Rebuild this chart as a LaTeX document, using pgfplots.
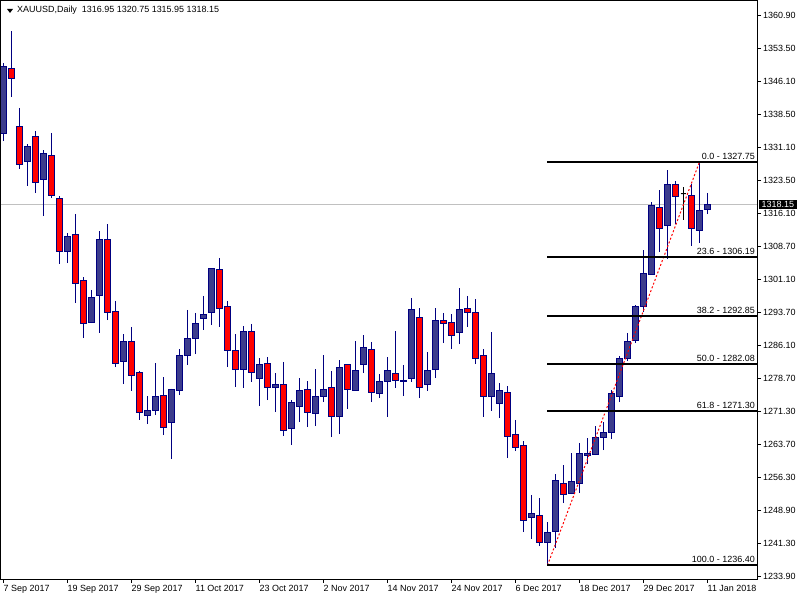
\documentclass[border=0pt]{standalone}
\usepackage{fontspec}
\setmainfont{Liberation Sans}
\usepackage{pgfplots}
\usepackage{pgfplotstable}
\pgfplotsset{compat=1.18}
\usepgfplotslibrary{statistics}

\definecolor{wick}{RGB}{0,0,128}
\definecolor{bull}{RGB}{60,60,140}
\definecolor{bear}{RGB}{255,0,0}
\definecolor{bidline}{RGB}{192,192,192}

% daily XAUUSD candles: index, open, high, low, close
\pgfplotstableread{
i o h l c
0 1334.10 1350.18 1332.51 1349.50
1 1348.83 1357.43 1342.48 1346.56
2 1335.91 1339.99 1326.17 1327.30
3 1327.98 1331.83 1322.32 1331.38
4 1333.42 1334.78 1320.73 1323.00
5 1323.68 1330.47 1315.52 1329.57
6 1329.12 1334.33 1319.60 1320.28
7 1319.60 1320.05 1304.65 1307.37
8 1307.59 1311.67 1304.87 1310.99
9 1311.22 1315.98 1295.81 1300.12
10 1301.02 1301.70 1287.88 1291.28
11 1291.51 1298.76 1291.28 1296.95
12 1297.62 1312.12 1289.02 1310.31
13 1310.31 1313.71 1291.96 1293.77
14 1294.00 1296.27 1281.31 1282.22
15 1282.67 1288.79 1277.46 1286.98
16 1286.98 1290.38 1275.88 1279.50
17 1280.18 1280.41 1269.31 1271.12
18 1270.44 1274.74 1268.40 1271.57
19 1271.57 1282.22 1270.44 1274.74
20 1274.97 1279.05 1265.91 1267.72
21 1268.63 1276.40 1260.47 1276.33
22 1276.10 1285.39 1274.97 1284.03
23 1284.03 1294.23 1281.77 1287.88
24 1287.88 1293.55 1284.26 1291.28
25 1292.19 1297.40 1289.70 1293.32
26 1293.55 1303.74 1290.83 1303.52
27 1303.29 1306.01 1290.38 1294.68
28 1295.13 1296.27 1281.31 1285.16
29 1285.16 1288.79 1276.78 1280.86
30 1280.86 1290.60 1276.56 1289.47
31 1289.47 1291.06 1277.92 1280.18
32 1278.60 1283.35 1272.48 1281.99
33 1282.22 1283.58 1273.84 1276.56
34 1276.56 1279.95 1271.12 1277.46
35 1277.46 1282.45 1265.68 1267.04
36 1267.49 1273.84 1263.64 1273.38
37 1272.48 1278.82 1268.85 1276.10
38 1276.33 1278.14 1267.72 1271.12
39 1270.89 1280.86 1267.95 1274.74
40 1274.52 1284.03 1273.38 1276.33
41 1276.56 1280.41 1265.45 1269.99
42 1269.99 1282.90 1266.13 1281.31
43 1281.77 1281.90 1271.80 1276.33
44 1276.10 1287.20 1275.88 1280.63
45 1281.77 1288.56 1279.95 1285.84
46 1285.39 1286.98 1273.38 1275.65
47 1275.20 1279.73 1274.29 1277.92
48 1277.92 1283.58 1269.99 1280.41
49 1279.95 1289.47 1276.56 1278.37
50 1278.14 1281.77 1274.74 1278.37
51 1278.60 1296.95 1277.92 1294.23
52 1292.64 1294.68 1274.29 1276.78
53 1277.24 1284.71 1275.88 1280.41
54 1280.86 1294.68 1278.82 1291.96
55 1291.96 1293.55 1286.75 1291.06
56 1291.51 1293.32 1285.39 1288.56
57 1289.02 1299.21 1286.52 1294.23
58 1294.68 1297.40 1290.38 1293.77
59 1293.55 1296.72 1281.99 1283.35
60 1283.81 1285.39 1269.99 1274.74
61 1274.52 1289.24 1271.35 1279.95
62 1273.16 1277.69 1269.76 1276.10
63 1275.65 1277.01 1260.70 1265.68
64 1266.13 1269.31 1262.28 1263.19
65 1263.42 1264.55 1243.93 1246.65
66 1247.33 1252.32 1242.35 1248.24
67 1247.78 1251.64 1240.76 1241.67
68 1241.67 1246.20 1236.40 1243.93
69 1244.16 1257.07 1240.31 1255.71
70 1255.03 1259.11 1250.50 1252.54
71 1252.77 1261.83 1252.54 1255.49
72 1255.03 1264.10 1252.77 1261.83
73 1261.38 1265.23 1259.34 1261.83
74 1261.60 1267.95 1261.38 1265.45
75 1265.45 1268.85 1262.51 1266.59
76 1266.59 1276.10 1265.00 1275.42
77 1274.74 1283.81 1273.38 1283.13
78 1283.13 1289.02 1282.67 1286.98
79 1287.43 1295.36 1286.75 1294.91
80 1294.91 1307.82 1293.77 1302.61
81 1302.38 1318.69 1302.30 1318.01
82 1317.56 1321.41 1307.37 1312.80
83 1313.48 1325.94 1305.78 1322.77
84 1322.77 1323.45 1313.71 1319.83
85 1320.51 1322.09 1314.62 1320.51
86 1320.28 1322.77 1308.73 1312.58
87 1312.35 1327.75 1309.41 1316.66
88 1316.95 1320.75 1315.95 1318.15
}\ohlc

% build the list of candle plots before the axis
\gdef\candles{}
\foreach \k in {0,...,88}{%
  \pgfplotstablegetelem{\k}{o}\of\ohlc \edef\cO{\pgfplotsretval}%
  \pgfplotstablegetelem{\k}{h}\of\ohlc \edef\cH{\pgfplotsretval}%
  \pgfplotstablegetelem{\k}{l}\of\ohlc \edef\cL{\pgfplotsretval}%
  \pgfplotstablegetelem{\k}{c}\of\ohlc \edef\cC{\pgfplotsretval}%
  \ifdim\cC pt>\cO pt
    \def\cFill{bull}\edef\cLo{\cO}\edef\cHi{\cC}\def\cDraw{wick}%
  \else\ifdim\cC pt<\cO pt
    \def\cFill{bear}\edef\cLo{\cC}\edef\cHi{\cO}\def\cDraw{wick}%
  \else
    \def\cFill{black}\edef\cLo{\cC}\edef\cHi{\cO}\def\cDraw{black}%
  \fi\fi
  \xdef\candles{\unexpanded\expandafter{\candles}%
    \noexpand\addplot[draw=\cDraw, fill=\cFill, line width=1bp,
    boxplot prepared={draw position=\k, lower whisker=\cL, lower quartile=\cLo,
      median=\cLo, upper quartile=\cHi, upper whisker=\cH,
      box extend=0.65, whisker extend=0}] coordinates {};}%
}

\begin{document}
\begin{tikzpicture}[font=\fontsize{9}{11}\selectfont]
\path[use as bounding box] (0,0) rectangle (800bp,600bp);
\begin{axis}[
  at={(1bp,21bp)}, anchor=south west,
  scale only axis, width=756bp, height=578bp,
  xmin=-0.31, xmax=94.19, ymin=1233.29, ymax=1364.23,
  boxplot/draw direction=y,
  axis line style={black, line width=1bp},
  xtick={0,8,...,88},
  xticklabels={7 Sep 2017,19 Sep 2017,29 Sep 2017,11 Oct 2017,23 Oct 2017,2 Nov 2017,14 Nov 2017,24 Nov 2017,6 Dec 2017,18 Dec 2017,29 Dec 2017,11 Jan 2018},
  ytick={1233.90,1241.30,1248.90,1256.30,1263.70,1271.30,1278.70,1286.10,1293.70,1301.10,1308.70,1316.10,1323.50,1331.10,1338.50,1346.10,1353.50,1360.90},
  scaled y ticks=false,
  xtick pos=bottom, ytick pos=right, yticklabel pos=right,
  tick align=outside, major tick length=4bp,
  tick style={black, line width=1bp},
  yticklabel style={anchor=west, inner sep=0pt, xshift=2bp,
    /pgf/number format/fixed, /pgf/number format/fixed zerofill,
    /pgf/number format/precision=2, /pgf/number format/1000 sep={},
    /pgf/number format/assume math mode=true},
  xticklabel style={anchor=north west, inner sep=0pt, xshift=0bp, yshift=-2bp},
]
% bid line
\addplot[bidline, line width=1bp] coordinates {(-0.31,1318.15) (94.19,1318.15)};

% candles
\candles

% fibonacci levels
\addplot[red, line width=1bp, dash pattern=on 2bp off 2bp] coordinates {(68,1236.40) (87,1327.75)};
\addplot[black, line width=2bp] coordinates {(68,1327.75) (94.19,1327.75)};
\addplot[black, line width=2bp] coordinates {(68,1306.19) (94.19,1306.19)};
\addplot[black, line width=2bp] coordinates {(68,1292.85) (94.19,1292.85)};
\addplot[black, line width=2bp] coordinates {(68,1282.08) (94.19,1282.08)};
\addplot[black, line width=2bp] coordinates {(68,1271.30) (94.19,1271.30)};
\addplot[black, line width=2bp] coordinates {(68,1236.40) (94.19,1236.40)};
\foreach \lv/\pr in {0.0/1327.75, 23.6/1306.19, 38.2/1292.85, 50.0/1282.08, 61.8/1271.30, 100.0/1236.40}{
  \edef\tmp{\noexpand\node[anchor=south east, inner sep=0pt, xshift=-2bp, yshift=2bp]
    at (axis cs:94.19,\pr) {\lv\ -\ \pr};}\tmp
}

\coordinate (bid) at (axis cs:94.19,1318.15);
\coordinate (tl) at (rel axis cs:0,1);
\end{axis}
\node[fill=black, text=white, inner xsep=3bp, inner ysep=1.5bp, anchor=west] at ([xshift=1.5bp]bid) {1318.15};
\fill[black] ([xshift=6bp,yshift=-8bp]tl) -- ++(6bp,0) -- ++(-3bp,-4bp) -- cycle;
\node[anchor=west, inner sep=0pt] at ([xshift=16bp,yshift=-9bp]tl) {XAUUSD,Daily\hspace{5bp}1316.95 1320.75 1315.95 1318.15};
\end{tikzpicture}
\end{document}
